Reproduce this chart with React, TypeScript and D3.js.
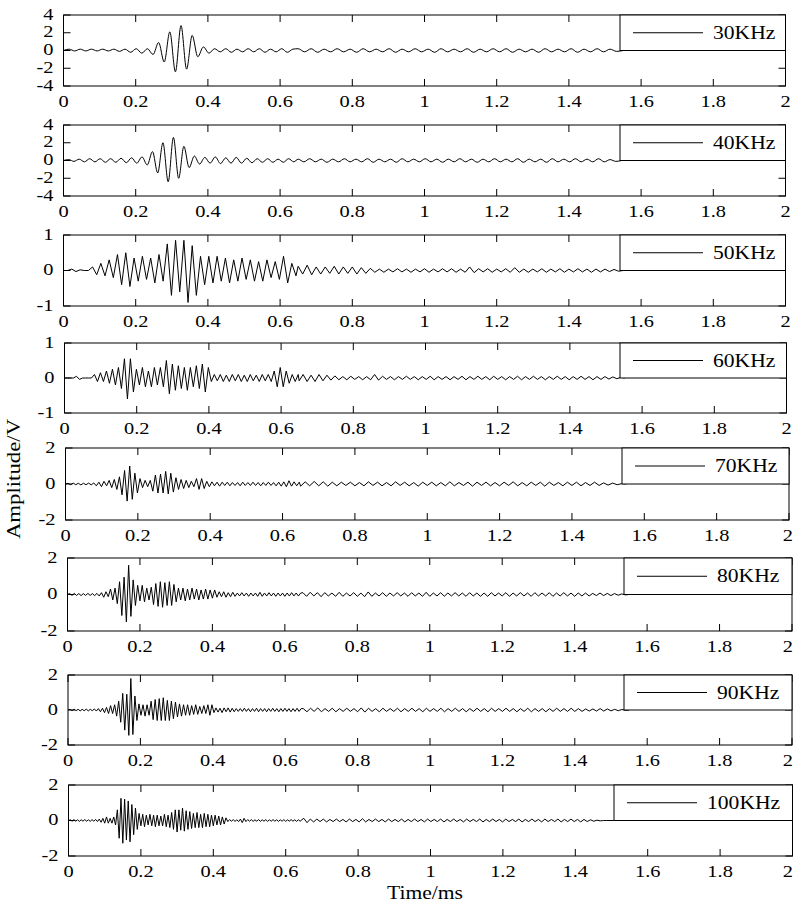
import React from 'react';
import * as d3 from 'd3';

// ---------- data ----------
const labels = ['30KHz', '40KHz', '50KHz', '60KHz', '70KHz', '80KHz', '90KHz', '100KHz'];
const yLimits = [4, 4, 1, 1, 2, 2, 2, 2];
const yTickSets = [
  [-4, -2, 0, 2, 4],
  [-4, -2, 0, 2, 4],
  [-1, 0, 1],
  [-1, 0, 1],
  [-2, 0, 2],
  [-2, 0, 2],
  [-2, 0, 2],
  [-2, 0, 2],
];
const xTickValues = [0, 0.2, 0.4, 0.6, 0.8, 1, 1.2, 1.4, 1.6, 1.8, 2];
const xTickLabels = ['0', '0.2', '0.4', '0.6', '0.8', '1', '1.2', '1.4', '1.6', '1.8', '2'];

// sample spacing (ms) of the burst part and of the tail part of each trace
const burstSteps = [0.0155, 0.0145, 0.0115, 0.0083, 0.0071, 0.00625, 0.0056, 0.005];
const tailSteps = [0.018, 0.016, 0.0125, 0.011, 0.0125, 0.01, 0.01, 0.009];
const TAIL_START = 0.65;

const burst30 = [
  0, .15, -.05, .15, -.05, .15, -.05, .15, -.05, .15,
  -.1, .15, -.2, .2, -.3, .2, -.45,
  .9, -1.3, 2.1, -2.4, 2.8, -2.1, 1.7, -.7,
  .4, -.3, .2, -.15, .2, -.2, .15, -.15, .2, -.15, .2, -.2, .15, -.15, .2, -.2, .15,
];
const tail30 = [
  .2, -.15, .2, -.2, .15, -.15, .2, -.15, .15, -.2,
  .2, -.15, .15, -.15, .2, -.2, .15, -.15, .2, -.15,
  .15, -.2, .2, -.15, .15, -.15, .2, -.2, .15, -.15,
  .2, -.15, .2, -.2, .15, -.15, .15, -.2, .2, -.15,
  .15, -.15, .2, -.2, .15, -.15, .2, -.15, .15, -.1,
  0,
];

const burst40 = [
  0, .1, -.1, .15, -.15, .2, -.15, .2, -.2, .2,
  -.2, .25, -.25, .3, -.3, .4, -.5,
  1.0, -1.4, 2.0, -2.4, 2.6, -2.0, 1.6, -.8, .5, -.4,
  .35, -.3, .4, -.35, .3, -.3, .35, -.3, .25, -.25, .2, -.2, .2, -.2, .15, -.2, .2, -.15,
];
const tail40 = [
  .15, -.15, .2, -.15, .15, -.2, .15, -.15, .2, -.15,
  .15, -.15, .2, -.2, .15, -.15, .15, -.2, .2, -.15,
  .15, -.15, .2, -.15, .15, -.2, .15, -.15, .2, -.15,
  .15, -.2, .15, -.15, .2, -.15, .15, -.15, .2, -.2,
  .15, -.15, .15, -.2, .2, -.15, .15, -.15, .2, -.15,
  .15, -.15, .2, -.15, .1, -.1, 0,
];

const burst50 = [
  0, 0, .04, -.03, .02, 0, 0,
  .1, -.12,
  .2, -.15, .3, -.2,
  .45, -.4, .5, -.45,
  .35, -.3, .4, -.25, .35,
  -.35, .45, -.3,
  .75, -.7, .85, -.6, .85, -.9, .7, -.7, .4,
  -.4, .4, -.35, .4, -.3, .35, -.35, .3, -.3, .35, -.25, .3,
  -.3, .25, -.3, .3, -.2, .25, -.25, .4, -.35, .2, -.15,
];
const tail50 = [
  .12, -.1, .15, -.12, .1, -.1,
  .1, -.08, .12, -.1, .1, -.08, .1, -.1, .08, -.08, .06,
  -.05, .04, -.05, .04, -.04, .05, -.04, .04, -.05, .04,
  -.04, .05, -.05, .04, -.04, .05, -.04, .05, -.05, .04,
  -.05, .1, -.06, .05, -.04, .05, -.05, .04, -.04, .05,
  -.05, .08, -.05, .04, -.05, .04, -.04, .05, -.05, .04,
  -.04, .05, -.05, .04, -.04, .05, -.04, .04, -.05, .04,
  -.04, .04, -.03, .03, -.02, 0,
];

const burst60 = [
  0, 0, 0, 0, .05, -.04, 0, 0, 0, 0,
  .1, -.1, .15, -.1, .2, -.15, .25, -.2,
  .3, -.3, .55, -.6, .55, -.4,
  .25, -.2, .3, -.25, .2, -.25, .3, -.2,
  .3, -.25, .5, -.45, .4, -.35,
  .35, -.3, .3, -.35, .3, -.25, .35, -.3, .4, -.4, .3,
  -.1, .1, -.08, .1, -.1, .08, -.1, .1, -.08, .1, -.1, .08, -.1, .1, -.08, .08, -.1, .1, -.08, .1, -.1,
  .2, -.25, .3, -.25, .2,
  -.15, .1, -.1, .1,
];
const tail60 = [
  -.08, .1, -.1, .08, -.1, .1, -.08, .08, -.06, .06,
  -.05, .04, -.05, .05, -.04, .04, -.05, .04, -.05, .1,
  -.06, .05, -.04, .04, -.05, .04, -.04, .05, -.04, .04,
  -.05, .04, -.04, .05, -.05, .04, -.04, .04, -.05, .04,
  -.04, .05, -.05, .04, -.04, .05, -.04, .04, -.05, .05,
  -.04, .04, -.05, .04, -.04, .05, -.05, .04, -.04, .05,
  -.04, .04, -.05, .04, -.04, .05, -.04, .04, -.05, .04,
  -.04, .05, -.04, .04, -.05, .04, -.04, .04, -.03, .03,
  -.02, .02, 0,
];

const burst70 = [
  0, .04, -.04, .05, -.04, .04, -.05, .04, -.04, .05, -.05, .06,
  -.1, .1, -.15, .15, -.1, .2, -.2,
  .25, -.3,
  .4, -.6, .75, -.95, 1.0, -.85, .6, -.5,
  .3, -.2, .2, -.15, .2,
  -.4, .5, -.5, .55, -.5, .7, -.55, .6, -.45,
  .35, -.3, .25, -.25, .2, -.2, .15, -.15, .3, -.3, .3, -.25, .15, -.15,
  .12, -.1, .1, -.12, .1, -.08, .1, -.1, .08, -.08,
  .08, -.1, .1, -.08, .08, -.08, .1, -.08, .08, -.1,
  .08, -.08, .1, -.08, .08, -.1, .1, -.12, .12, -.15,
  .18, -.12, .12, -.1, .1,
];
const tail70 = [
  -.12, .12, -.1, .14, -.1, .12, -.12, .1, -.1, .1,
  -.08, .1, -.1, .08, -.1, .12, -.08, .1, -.1, .08,
  -.1, .12, -.08, .1, -.1, .08, -.12, .1, -.08, .1,
  -.1, .08, -.1, .12, -.1, .08, -.08, .1, -.12, .1,
  -.08, .1, -.1, .08, -.1, .1, -.08, .12, -.1, .08,
  -.1, .1, -.08, .1, -.12, .1, -.08, .08, -.1, .1,
  -.08, .1, -.1, .08, -.08, .1, -.08, .06, -.06, .05,
  -.04, .02, 0,
];

const burst80 = [
  0, .05, -.05, .06, -.05, .05, -.06, .05, -.05, .06, -.05, .05, -.06, .06, -.08, .1,
  -.15, .15, -.12,
  .3, -.3, .35,
  -.5, .7, -1.15, .95, -1.5, 1.6, -1.2,
  .8, -.6, .5,
  -.35, .5, -.4, .35, -.3, .4,
  -.55, .6, -.65, .7, -.7, .65, -.6, .7, -.6, .55,
  -.4, .35, -.3, .35, -.35, .3, -.3, .35, -.25, .3, -.3,
  .25, -.25, .3, -.25, .25, -.2, .25,
  -.15, .15, -.12, .15, -.15, .1, -.12, .12,
  -.1, .08, -.08, .1, -.08, .08, -.1, .08, -.08, .08,
  -.1, .12, -.1, .08, -.08, .1, -.08, .08, -.1, .08,
  -.08, .08, -.1, .08, -.08, .1, -.08, .08, -.08, .08,
];
const tail80 = [
  .1, -.1, .12, -.08, .1, -.12, .1, -.08, .08, -.1,
  .12, -.1, .08, -.08, .1, -.1, .08, -.12, .14, -.1,
  .08, -.08, .1, -.1, .08, -.08, .1, -.08, .08, -.1,
  .1, -.08, .08, -.1, .12, -.1, .08, -.08, .1, -.1,
  .08, -.08, .1, -.08, .08, -.1, .1, -.08, .08, -.1,
  .08, -.1, .1, -.08, .08, -.08, .1, -.1, .08, -.08,
  .1, -.08, .08, -.1, .1, -.08, .08, -.08, .1, -.1,
  .08, -.08, .1, -.08, .08, -.1, .08, -.08, .08, -.08,
  .06, -.06, .08, -.06, .06, -.06, .05, -.04, .03, -.02,
  0,
];

const burst90 = [
  0, .04, -.04, .05, -.04, .04, -.05, .04, -.04, .05, -.05, .04, -.04, .06, -.06, .08, -.1, .1,
  -.15, .15, -.2, .25, -.2, .3, -.35,
  .5, -.7, .95, -1.15, .9, -1.45, 1.8, -1.4,
  .8, -.6,
  .35, -.3, .3, -.35, .3, -.3,
  .5, -.55, .6, -.6, .65, -.6, .7, -.6, .55, -.6, .5, -.5, .45,
  -.4, .35, -.35, .3, -.3, .3, -.3, .25, -.25, .3, -.25, .2, -.2, .25, -.2,
  .3, -.3, .3,
  -.15, .12, -.12, .1, -.15, .12, -.1, .12, -.12, .1, -.1, .08,
  -.08, .08, -.08, .1, -.08, .08, -.1, .08, -.08, .1,
  -.1, .08, -.08, .08, -.1, .08, -.08, .1, -.08, .08,
  -.1, .08, -.08, .1, -.08, .08, -.1, .08, -.08, .1, -.08, .08,
];
const tail90 = [
  .08, -.1, .1, -.08, .12, -.1, .08, -.08, .1, -.1,
  .08, -.08, .1, -.08, .08, -.1, .12, -.12, .1, -.08,
  .08, -.1, .1, -.08, .08, -.08, .1, -.1, .08, -.08,
  .1, -.08, .08, -.1, .1, -.08, .08, -.08, .1, -.1,
  .08, -.08, .1, -.08, .08, -.1, .08, -.08, .1, -.08,
  .08, -.1, .1, -.08, .08, -.08, .1, -.08, .08, -.1,
  .08, -.08, .1, -.1, .08, -.08, .08, -.1, .08, -.08,
  .1, -.08, .08, -.08, .1, -.08, .08, -.08, .06, -.06,
  .06, -.06, .08, -.06, .06, -.05, .04, -.04, .03, -.02,
  0,
];

const burst100 = [
  0, .04, -.04, .05, -.04, .04, -.05, .04, -.04, .05, -.04, .04, -.05, .05, -.04, .06, -.06, .08,
  -.1, .12, -.15, .2, -.15, .12, -.15, .2, -.25,
  .6, -1.0, 1.25, -1.28, 1.2, -1.1, 1.1, -1.2, .9, -.8, .7,
  -.5, .4, -.3, .35, -.35, .3, -.25, .35, -.3, .3, -.35, .3, -.3, .25, -.3, .35, -.35, .3, -.4, .45,
  -.5, .6, -.65, .6, -.55, .7, -.6, .55, -.5, .5,
  -.45, .4, -.4, .45, -.4, .35, -.4, .4, -.35, .35, -.35, .3, -.3, .3, -.25, .25, -.25, .2, -.2, .15,
  -.06, .05, -.04, .05, -.05, .04, -.06, .08, -.12, .12,
  -.06, .05, -.04, .05, -.05, .04, -.04, .05, -.05, .04,
  -.04, .05, -.05, .04, -.04, .05, -.04, .04, -.05, .04,
  -.04, .05, -.05, .04, -.04, .05, -.04, .04, -.05, .04, -.04, .05,
];
const tail100 = [
  .12, -.12, .08, -.08, .08, -.06, .08, -.08, .06, -.06,
  .08, -.06, .06, -.08, .08, -.06, .06, -.08, .1, -.08,
  .06, -.06, .08, -.06, .06, -.08, .08, -.06, .06, -.06,
  .08, -.08, .06, -.06, .08, -.06, .06, -.08, .08, -.06,
  .06, -.06, .08, -.08, .06, -.06, .08, -.06, .06, -.08,
  .08, -.06, .06, -.06, .08, -.08, .06, -.06, .08, -.06,
  .06, -.08, .08, -.06, .06, -.06, .08, -.08, .06, -.06,
  .08, -.06, .06, -.08, .08, -.06, .06, -.06, .08, -.08,
  .06, -.06, .08, -.06, .06, -.08, .06, -.06, .04, -.04,
  .02, -.02, 0, 0, 0, 0, 0, 0, 0, 0,
  0,
];

const bursts = [burst30, burst40, burst50, burst60, burst70, burst80, burst90, burst100];
const tails = [tail30, tail40, tail50, tail60, tail70, tail80, tail90, tail100];

// ---------- layout (pixel frames of each axes) ----------
const frames = [
  { left: 63.5, right: 785.5, top: 15, bottom: 86, legendLeft: 620 },
  { left: 63.5, right: 785.5, top: 125, bottom: 196, legendLeft: 620 },
  { left: 63.5, right: 785.5, top: 235, bottom: 306, legendLeft: 620 },
  { left: 64.5, right: 786.5, top: 343, bottom: 413, legendLeft: 620 },
  { left: 65.5, right: 789, top: 448, bottom: 520, legendLeft: 622 },
  { left: 67.5, right: 792, top: 558, bottom: 631, legendLeft: 624 },
  { left: 68, right: 792, top: 675, bottom: 745, legendLeft: 624 },
  { left: 68.5, right: 792.5, top: 785, bottom: 856, legendLeft: 614 },
];

const FONT = "'Liberation Serif','Times New Roman',serif";
const SX = 1.2;
const TICK = 7;
const PAGE_W = 794;

function Txt({ x, y, anchor = 'start', size = 17, children }: any) {
  return (
    <text
      transform={`translate(${x},${y}) scale(${SX},1)`}
      textAnchor={anchor}
      fontSize={size}
      fontFamily={FONT}
      fill="#000"
    >
      {children}
    </text>
  );
}

function Panel({ k }: { k: number }) {
  const f = frames[k];
  const ymax = yLimits[k];
  const x = d3.scaleLinear().domain([0, 2]).range([f.left, f.right]);
  const y = d3.scaleLinear().domain([-ymax, ymax]).range([f.bottom, f.top]);
  const h = burstSteps[k];
  const ht = tailSteps[k];
  const pts: [number, number][] = [
    ...bursts[k].map((v, i) => [i * h, v] as [number, number]).filter((p) => p[0] < TAIL_START),
    ...tails[k].map((v, j) => [TAIL_START + j * ht, v] as [number, number]),
  ];
  const line = d3
    .line<[number, number]>()
    .x((d) => x(d[0]))
    .y((d) => y(d[1]))
    .curve(k < 2 ? d3.curveMonotoneX : d3.curveLinear);
  const path = line(pts) || '';
  const y0 = y(0);
  const legW = f.right - f.legendLeft;
  const legMid = (f.top + y0) / 2;
  return (
    <g>
      <path d={path} fill="none" stroke="#000" strokeWidth={1} strokeLinejoin="round" />
      {xTickValues.map((t, i) => {
        const half = xTickLabels[i].length * 4.2 * SX;
        const lx = Math.min(x(t), PAGE_W - 1 - half);
        return (
          <g key={'xt' + i}>
            <line x1={x(t)} x2={x(t)} y1={f.bottom} y2={f.bottom - TICK} stroke="#000" strokeWidth={1} />
            <line x1={x(t)} x2={x(t)} y1={f.top} y2={f.top + TICK} stroke="#000" strokeWidth={1} />
            <Txt x={lx} y={f.bottom + 21} anchor="middle">
              {xTickLabels[i]}
            </Txt>
          </g>
        );
      })}
      {yTickSets[k].map((v, i) => (
        <g key={'yt' + i}>
          <line x1={f.left} x2={f.left + TICK} y1={y(v)} y2={y(v)} stroke="#000" strokeWidth={1} />
          <line x1={f.right} x2={f.right - TICK} y1={y(v)} y2={y(v)} stroke="#000" strokeWidth={1} />
          <Txt x={f.left - 10} y={y(v) + 4.5} anchor="end">
            {String(v)}
          </Txt>
        </g>
      ))}
      <rect x={f.left} y={f.top} width={f.right - f.left} height={f.bottom - f.top} fill="none" stroke="#000" strokeWidth={1} />
      <rect x={f.legendLeft} y={f.top} width={legW} height={y0 - f.top} fill="#fff" stroke="#000" strokeWidth={1} />
      <line x1={f.legendLeft + 13} x2={f.legendLeft + 83} y1={legMid} y2={legMid} stroke="#000" strokeWidth={1} />
      <Txt x={f.legendLeft + 93} y={legMid + 6} size={18}>
        {labels[k]}
      </Txt>
    </g>
  );
}

export default function App() {
  return (
    <svg
      width={794}
      height={910}
      style={{ position: 'absolute', left: 0, top: 0, background: '#fff' }}
    >
      <rect x={0} y={0} width={794} height={910} fill="#fff" />
      {labels.map((_, k) => (
        <Panel key={k} k={k} />
      ))}
      <text
        transform={`translate(20,479) rotate(-90) scale(${SX},1)`}
        textAnchor="middle"
        fontSize={19}
        fontFamily={FONT}
      >
        Amplitude/V
      </text>
      <Txt x={425} y={899} anchor="middle" size={18}>
        Time/ms
      </Txt>
    </svg>
  );
}
